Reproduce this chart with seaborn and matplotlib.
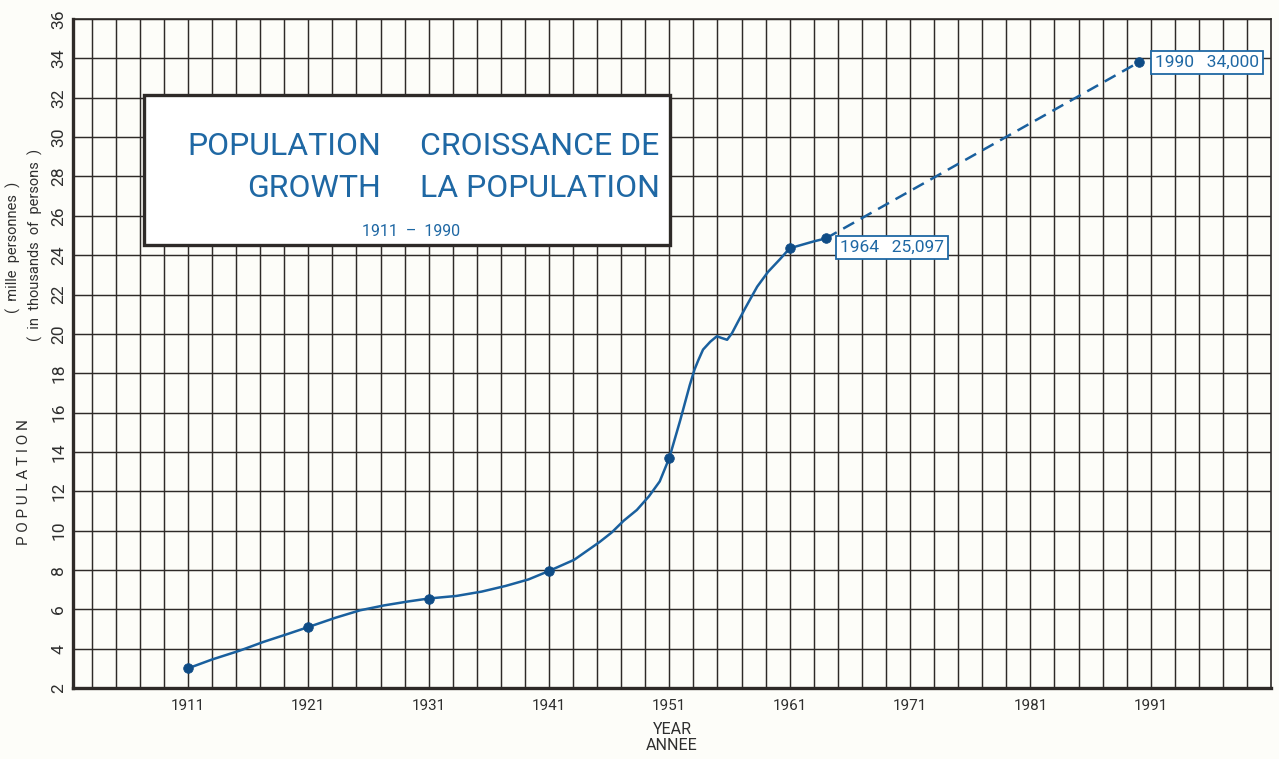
import matplotlib
matplotlib.use("Agg")
import matplotlib.pyplot as plt
from matplotlib.patches import Rectangle
import numpy as np
import seaborn as sns

# Data (population in thousands of persons / 1000)
census_year = [1911, 1921, 1931, 1941, 1951, 1961, 1964]
census_pop = [3.0, 5.1, 6.55, 7.95, 13.7, 24.35, 24.85]

# points
curve_year = [1911, 1913, 1915.3, 1917.3, 1919.3, 1921, 1923.3, 1925.3, 1927.3,
              1929.3, 1931, 1933.3, 1935.4, 1937.4, 1939.3, 1941, 1943.1, 1945.2,
              1946.2, 1947.2, 1948.3, 1949.3, 1950.2, 1951, 1951.9, 1952.3, 1952.7,
              1953.1, 1953.4, 1953.8, 1954.4, 1954.95, 1955.3, 1955.8, 1956.2,
              1956.75, 1957.3, 1958.3, 1959.2, 1960.2, 1961, 1963, 1964]
curve_pop = [3.0, 3.45, 3.9, 4.35, 4.75, 5.1, 5.58, 5.95, 6.2,
             6.4, 6.55, 6.68, 6.9, 7.19, 7.52, 7.95, 8.52, 9.42,
             9.9, 10.5, 11.05, 11.74, 12.5, 13.7, 15.6, 16.5, 17.4,
             18.2, 18.65, 19.2, 19.6, 19.88, 19.8, 19.7, 20.03,
             20.67, 21.3, 22.4, 23.15, 23.8, 24.35, 24.7, 24.85]

proj_year = [1964, 1990]
proj_pop = [24.85, 33.8]

label_1964 = "1964   25,097"
label_1990 = "1990   34,000"
xtick_years = [1911, 1921, 1931, 1941, 1951, 1961, 1971, 1981, 1991]
ytick_vals = list(range(2, 37, 2))

# Styling
blue = "#1a609e"
dot_blue = "#0f4c86"
text_blue = "#1f68a4"
ink = "#2e2a28"
paper = "#fdfdf9"

sns.set_theme(style="white")
plt.rcParams["font.family"] = ["Roboto", "DejaVu Sans"]

fig = plt.figure(figsize=(12.79, 7.59), dpi=100, facecolor=paper)
ax = fig.add_axes([0.0571, 0.0935, 0.9367, 0.8814], facecolor=paper)

ax.set_xlim(1901.45, 2001.0)
ax.set_ylim(2, 36)

ax.set_xticks(xtick_years)
ax.set_xticks(np.arange(1903, 2000, 2), minor=True)
ax.set_yticks(ytick_vals)
ax.set_xticklabels([str(y) for y in xtick_years])
ax.set_yticklabels([str(v) for v in ytick_vals])

ax.grid(True, which="both", axis="x", color=ink, linewidth=1.05)
ax.grid(True, which="major", axis="y", color=ink, linewidth=1.05)
ax.set_axisbelow(True)

ax.tick_params(axis="both", which="both", length=0)
ax.tick_params(axis="x", pad=8, labelsize=11, labelcolor="#2f2f2f")
ax.tick_params(axis="y", pad=5, labelsize=12.5, labelcolor="#2f2f2f", labelrotation=90)
for lab in ax.get_yticklabels():
    lab.set_va("center")

for side in ["left", "bottom"]:
    ax.spines[side].set_linewidth(2.4)
    ax.spines[side].set_color(ink)
for side in ["top", "right"]:
    ax.spines[side].set_linewidth(1.2)
    ax.spines[side].set_color(ink)

# Curve, projection and census dots
sns.lineplot(x=curve_year, y=curve_pop, ax=ax, color=blue, linewidth=1.8,
             sort=False, estimator=None, zorder=3)
sns.lineplot(x=proj_year, y=proj_pop, ax=ax, color=blue, linewidth=1.8,
             linestyle=(0, (5, 3)), sort=False, estimator=None, zorder=3)
sns.scatterplot(x=census_year, y=census_pop, ax=ax, s=48, color=dot_blue,
                edgecolor=dot_blue, zorder=4)
sns.scatterplot(x=[proj_year[-1]], y=[proj_pop[-1]], ax=ax, s=48, color=dot_blue,
                edgecolor=dot_blue, zorder=4)

box_kw = dict(boxstyle="square,pad=0.22", fc="white", ec=text_blue, lw=1.3)
ax.annotate(label_1964, xy=(census_year[-1], census_pop[-1]), xytext=(14, -9),
            textcoords="offset pixels", ha="left", va="center", fontsize=12.5,
            color=text_blue, bbox=box_kw, zorder=5)
ax.annotate(label_1990, xy=(proj_year[-1], proj_pop[-1]), xytext=(16, 0),
            textcoords="offset pixels", ha="left", va="center", fontsize=12.5,
            color=text_blue, bbox=box_kw, zorder=5)

# Title box
ax.add_patch(Rectangle((0.0593, 0.6622), 0.4390, 0.2242, transform=ax.transAxes,
                       facecolor="white", edgecolor=ink, linewidth=2.4, zorder=2))
title_kw = dict(transform=ax.transAxes, color=text_blue, fontsize=23,
                va="baseline", zorder=3)
ax.text(0.2571, 0.7965, "POPULATION", ha="right", **title_kw)
ax.text(0.2900, 0.7965, "CROISSANCE DE", ha="left", **title_kw)
ax.text(0.2571, 0.7344, "GROWTH", ha="right", **title_kw)
ax.text(0.2900, 0.7344, "LA POPULATION", ha="left", **title_kw)
ax.text(0.2821, 0.6752, "1911  \u2013  1990", ha="center", va="baseline",
        transform=ax.transAxes, color=text_blue, fontsize=11.5, zorder=3)

# Axis titles
lab_col = "#2f2f2f"
fig.text(672 / 1279, 1 - 730 / 759, "YEAR", ha="center", va="center",
         fontsize=11.5, color=lab_col)
fig.text(672 / 1279, 1 - 746 / 759, "ANNEE", ha="center", va="center",
         fontsize=11.5, color=lab_col)
fig.text(24 / 1279, 1 - 482 / 759, "P O P U L A T I O N", rotation=90,
         ha="center", va="center", fontsize=11, color=lab_col)
fig.text(13 / 1279, 1 - 247 / 759, "(  mille  personnes  )", rotation=90,
         ha="center", va="center", fontsize=10.5, color=lab_col)
fig.text(35 / 1279, 1 - 245 / 759, "(  in  thousands  of  persons  )", rotation=90,
         ha="center", va="center", fontsize=10.5, color=lab_col)

fig.savefig("out.png", dpi=100, facecolor=paper)
